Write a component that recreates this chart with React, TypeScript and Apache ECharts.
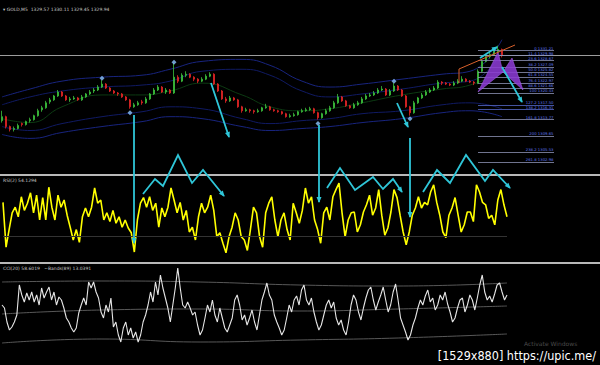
import React, { useEffect, useRef } from "react";
import * as echarts from "echarts";

// ---------- price panel (GOLD M5) ----------
const opens = [1313.5,1314.5,1312,1311.25,1311.5,1312.75,1312.5,1313.5,1313.75,1314.75,
 1316.25,1316.75,1318.25,1318.75,1319.75,1320.75,1319.75,1318.75,1319,1319.25,
 1318.75,1319.5,1320.25,1321,1321.25,1322,1322.75,1321.75,1321,1320.5,
 1320.25,1319.5,1318.75,1317,1317.5,1318.25,1318,1319,1320.25,1321.25,
 1322,1320.75,1321.25,1320.5,1324.5,1323.5,1325,1325.25,1324.5,1324,
 1323.5,1324,1324.75,1325.25,1322.75,1321,1319,1318.5,1319.25,1318.75,
 1317,1316,1316.25,1316,1315.75,1316,1316.75,1317,1316.25,1316,
 1315.75,1315.25,1314.5,1314.75,1315,1315.75,1316,1316.25,1316.5,1315.5,
 1314.25,1315.25,1316,1316.75,1318,1319.5,1318.5,1317.25,1316.75,1317.5,
 1318,1319,1319.75,1320,1320.5,1321.25,1321.5,1320,1321,1322.25,
 1321.25,1319.75,1317,1315.5,1318,1319.25,1320,1320.75,1321.25,1321.75,
 1323.25,1323,1322.75,1322.5,1323,1323.5,1324,1323.5,1323.25,1323,
 1326,1328.5,1329.75,1330.25,1331,1331.5];
const closes = [1314.5,1312,1311.25,1311.5,1312.25,1312.5,1313.25,1313.75,1314.75,1316,
 1316.75,1318,1318.75,1319.75,1320.75,1319.75,1318.75,1319,1319.25,1318.75,
 1319.5,1320.25,1320.75,1321.25,1322,1322.75,1321.75,1321,1320.5,1320.25,
 1319.5,1318.75,1317,1317.5,1318,1318,1319,1320.25,1321.25,1322,
 1320.75,1321.25,1320.5,1324.5,1323.5,1325,1325.25,1324.5,1324,1323.5,
 1324,1324.75,1325.25,1322.75,1321,1319,1318.5,1319.25,1318.75,1317,
 1316,1316.25,1316,1315.75,1316,1316.75,1317,1316.25,1316,1315.75,
 1315.25,1314.5,1314.75,1315,1315.75,1316,1316.25,1316.5,1315.5,1314.25,
 1315.25,1316,1316.75,1318,1319.5,1318.5,1317.25,1316.75,1317.5,1318,
 1319,1319.75,1320,1320.5,1321.25,1321.5,1320,1321,1322.25,1321.25,
 1319.75,1317,1315.5,1318,1319.25,1320,1320.75,1321.25,1321.75,1323.25,
 1323,1322.75,1322.5,1323,1323.5,1324,1323.5,1323.25,1323,1326,
 1328.5,1329.75,1330.25,1331,1331.5,1329.94];
const lows = [1313,1311.5,1310.75,1310.75,1311.25,1312,1312.25,1313,1313.5,1314.5,
 1315.75,1316.5,1317.75,1318.5,1319.5,1319.5,1318.5,1318.25,1318.75,1318.5,
 1318.5,1319.25,1320,1320.5,1321,1321.75,1321.5,1320.75,1320.25,1319.75,
 1319.25,1318.5,1316.5,1316.75,1317.25,1317.5,1317.75,1318.75,1320,1321,
 1320.5,1320.25,1320.25,1320.25,1323,1323.25,1324.5,1324.25,1323.5,1323,
 1323.25,1323.75,1324.5,1322.5,1320.75,1318.75,1318,1318.25,1318.5,1316.75,
 1315.5,1315.75,1315.5,1315.25,1315.5,1315.75,1316.5,1316,1315.75,1315.5,
 1315,1314.25,1314.25,1314.5,1314.75,1315.5,1315.75,1316,1315.25,1313.75,
 1314,1315,1315.75,1316.5,1317.75,1318.25,1317,1316.5,1316.5,1317.25,
 1317.75,1318.75,1319.5,1319.75,1320.25,1321,1319.75,1319.75,1320.75,1321,
 1319.5,1316.75,1314.75,1315.25,1317.75,1319,1319.75,1320.5,1321,1321.5,
 1322.5,1322.5,1322.25,1322.25,1322.75,1323.25,1323.25,1323,1322.5,1322.75,
 1325.75,1328.25,1329.25,1330,1330.75,1329.5];
const highs = [1316,1314.75,1312.25,1312,1312.75,1313,1313.5,1314.25,1315,1316.5,
 1317.25,1318.5,1319.25,1320,1321.25,1321,1320,1319.5,1319.75,1319.5,
 1320,1320.5,1321.25,1321.75,1322.5,1323.75,1323,1322,1321.25,1320.75,
 1320.5,1319.75,1319,1318,1318.5,1318.75,1319.5,1320.5,1321.75,1322.5,
 1322.25,1321.75,1321.5,1328,1325,1325.5,1326,1325.5,1324.75,1324.25,
 1324.5,1325.25,1325.75,1325.5,1323,1321.25,1319.5,1319.75,1319.5,1319,
 1317.25,1316.75,1316.5,1316.25,1316.5,1317,1317.75,1317.25,1316.5,1316.25,
 1316,1315.5,1315.25,1315.5,1316,1316.5,1316.75,1317,1316.75,1315.75,
 1315.5,1316.5,1317.25,1318.5,1320.25,1319.75,1318.75,1317.5,1318,1318.5,
 1319.5,1320.25,1320.5,1321,1321.75,1322.25,1321.75,1321.5,1323,1322.5,
 1321.5,1320,1317.25,1318.5,1319.5,1320.5,1321.25,1321.75,1322.25,1323.75,
 1323.5,1323.25,1323,1323.5,1324,1324.75,1324.25,1323.75,1323.5,1326.5,
 1329,1330.25,1330.75,1331.5,1332.5,1331.75];

const bandIdx = [0, 7, 15, 25, 35, 42, 50, 60, 67, 75, 82, 90, 100, 110, 117, 125];
const upperOuter = [1319.5,1321.5,1323.5,1324.5,1325,1326.5,1328.5,1329,1327.5,1323.5,1322,1322.75,1324,1325.25,1326,1334];
const upperInner = [1317.5,1319.5,1321,1322,1322.5,1323.5,1326,1326.5,1325,1321,1319.5,1320.25,1321.5,1323,1323.5,1331];
const middleBand = [1314,1313,1317,1320,1320,1321,1323,1320,1317,1316,1316.5,1318,1320,1321.5,1322.5,1326];
const lowerInner = [1312,1311,1312.75,1314.5,1315.75,1317,1316.5,1314,1312.75,1313.5,1314,1315.25,1316,1317.5,1318,1316.5];
const lowerOuter = [1310,1309,1310.5,1312,1313.25,1314.5,1314,1312,1311,1311.5,1312,1313,1314,1315.5,1316,1314.5];

const markerIdx = [25, 43, 98, 32, 79, 102];
const markerPrice = [1324.25, 1328.25, 1323.5, 1315.5, 1312.75, 1314];

const currentPrice = 1329.94;
const fibLevels = ["0", "11.4", "23.6", "38.2", "50.0", "61.8", "76.4", "88.6", "100", "127.2", "138.2", "161.8", "200", "238.2", "261.8"];
const fibPrices = [1331.21, 1329.98, 1328.67, 1327.09, 1325.82, 1324.55, 1322.97, 1321.66, 1320.43, 1317.5, 1316.31, 1313.77, 1309.65, 1305.53, 1302.98];

// ---------- RSI(2) ----------
const rsi = [72,16,38,59,66,54,79,62,71,84,59,81,50,78,50,91,66,50,81,66,75,56,41,25,38,22,54,65,54,66,90,71,75,50,59,48,62,46,54,41,50,40,34,10,50,71,78,66,79,62,71,41,65,54,66,90,75,59,72,50,62,35,41,25,
 54,71,59,66,81,62,29,34,21,9,29,41,59,50,29,25,12,38,66,59,29,16,59,71,79,50,29,50,59,38,25,71,59,46,62,90,71,79,50,38,21,59,66,50,79,88,96,59,29,50,59,
 60,35,44,60,69,81,56,65,88,56,31,40,60,88,78,56,35,19,35,56,65,79,65,72,69,85,94,72,56,35,28,56,65,78,56,35,44,60,60,48,94,85,72,69,52,56,44,75,88,69,54];

// ---------- CCI(20) ----------
const cci = [5,-10,-80,-120,-105,-80,-45,105,55,20,65,30,70,20,55,5,90,40,70,95,30,70,5,45,30,-10,-60,-80,-110,-130,-110,-35,5,40,5,120,90,120,70,40,-30,-60,5,-30,40,-105,-80,-145,-180,-110,-80,-145,-110,-160,-130,-180,-145,-80,-45,5,70,20,120,55,155,90,40,-10,-80,5,90,190,90,5,-10,20,-10,-45,-30,-95,-145,
 -120,-60,5,-30,30,-45,-80,-10,-60,-110,
 -130,-95,-60,30,55,5,-70,-45,-95,-60,
 -20,-80,-120,-45,30,70,115,55,30,-45,
 -80,-110,-145,-120,-60,5,-30,30,50,5,
 80,105,30,5,40,-30,-80,-120,-95,-45,
 5,30,-10,20,-60,-95,-70,-120,-145,-80,
 5,55,30,-30,-70,-10,40,80,95,30,
 -20,20,55,95,30,-30,5,70,110,30,
 -60,-95,-130,-170,-145,-95,-60,-10,30,5,
 50,80,20,40,-20,5,55,30,70,10,
 -30,-80,-60,-10,30,40,-30,5,55,30,
 -20,40,105,155,70,30,50,20,60,105,
 115,70,30,55];
const cciBandIdx = [0, 40, 80, 120, 160, 204];
const cciUpper = [120, 125, 120, 105, 100, 115];
const cciMiddle = [-40, -20, -15, -25, -15, 0];
const cciLower = [-185, -165, -180, -170, -160, -140];

const RSI_LABEL = "RSI(2) 54.1294";
const CCI_LABEL = "CCI(20) 58.6019   ~Bands(89) 13.0391";
const HEADER = "\u25BE GOLD,M5  1329.57 1330.11 1329.45 1329.94";

// annotation strokes (pixel space, drawn over the screenshot)
const cyanArrows: number[][][] = [
  [[480, 58], [497, 47]],
  [[502, 67], [522, 102]],
  [[211, 83], [229, 137]],
  [[397, 103], [408, 127]],
  [[134, 115], [134, 243]],
  [[319, 125], [319, 202]],
  [[410, 138], [410, 217]],
  [[143, 194], [155, 179], [163, 186], [178, 155], [192, 183], [203, 170], [224, 196]],
  [[327, 188], [340, 168], [355, 190], [373, 177], [383, 189], [393, 179], [402, 192]],
  [[423, 192], [437, 170], [450, 183], [466, 155], [485, 181], [493, 170], [510, 188]],
];
const purpleTriangles: number[][][] = [
  [[478, 92], [498, 52], [503, 72]],
  [[503, 72], [512, 58], [523, 90]],
];
const orangeLine = [[459, 83], [459, 69], [515, 45]];

function headPts(p1: number[], p2: number[], size: number) {
  const dx = p2[0] - p1[0], dy = p2[1] - p1[1];
  const L = Math.hypot(dx, dy) || 1;
  const ux = dx / L, uy = dy / L;
  const bx = p2[0] - ux * size, by = p2[1] - uy * size;
  const px = -uy * size * 0.5, py = ux * size * 0.5;
  return [[p2[0] + ux, p2[1] + uy], [bx + px, by + py], [bx - px, by - py]];
}

export default function App() {
  const ref = useRef<HTMLDivElement>(null);
  useEffect(() => {
    document.body.style.margin = "0";
    document.body.style.background = "#000";
    const chart = echarts.init(ref.current!, undefined, { renderer: "svg" });
    const priceCats = Array.from({ length: 150 }, (_, i) => String(i));
    const rsiCats = rsi.map((_, i) => String(i));
    const cciCats = cci.map((_, i) => String(i));
    const pair = (idx: number[], vals: number[]) => idx.map((x, i) => [x, vals[i]]);
    const bandLine = (data: number[][], color: string, width = 1, xi = 0, yi = 0) => ({
      type: "line", xAxisIndex: xi, yAxisIndex: yi, data, smooth: true, symbol: "none", silent: true,
      lineStyle: { color, width }, z: 1,
    });

    const fibMark: any[] = fibPrices.map((p, i) => [
      {
        coord: [119, p],
        lineStyle: { color: i === 9 || i === 10 ? "#5668c8" : "#8d92b4", width: 0.8, type: "solid" },
        label: {
          show: true, position: "insideEndTop", formatter: fibLevels[i] + " " + p.toFixed(2),
          color: "#5f74e6", fontSize: 3.8, distance: 0.5, fontFamily: "DejaVu Sans",
        },
      },
      { coord: [138, p] },
    ]);

    const graphic: any[] = [];
    graphic.push({ type: "rect", shape: { x: 0, y: 174, width: 600, height: 2 }, style: { fill: "#b8b8b8" }, z: 90 });
    graphic.push({ type: "rect", shape: { x: 0, y: 262, width: 600, height: 2 }, style: { fill: "#b8b8b8" }, z: 90 });
    graphic.push({ type: "text", x: 3, y: 7, style: { text: HEADER, fill: "#c8c8c8", fontSize: 4.5, fontFamily: "DejaVu Sans", verticalAlign: "top" }, z: 95 });
    graphic.push({ type: "text", x: 3, y: 178, style: { text: RSI_LABEL, fill: "#c8c8c8", fontSize: 4.5, fontFamily: "DejaVu Sans", verticalAlign: "top" }, z: 95 });
    graphic.push({ type: "text", x: 3, y: 266, style: { text: CCI_LABEL, fill: "#c8c8c8", fontSize: 4.5, fontFamily: "DejaVu Sans", verticalAlign: "top" }, z: 95 });
    purpleTriangles.forEach((t) =>
      graphic.push({ type: "polygon", shape: { points: t }, style: { fill: "#8a3ad2", opacity: 0.88, stroke: "#a860f0", lineWidth: 0.6 }, z: 60 })
    );
    graphic.push({ type: "polyline", shape: { points: orangeLine }, style: { stroke: "#d8602a", lineWidth: 1, fill: null }, z: 61 });
    cyanArrows.forEach((pts) => {
      graphic.push({ type: "polyline", shape: { points: pts }, style: { stroke: "#2fc6d8", lineWidth: 1.8, fill: null }, z: 100 });
      const n = pts.length;
      graphic.push({ type: "polygon", shape: { points: headPts(pts[n - 2], pts[n - 1], 5) }, style: { fill: "#2fc6d8" }, z: 100 });
    });
    graphic.push({ type: "text", x: 524, y: 340, style: { text: "Activate Windows", fill: "#4a4a4a", fontSize: 6, fontFamily: "DejaVu Sans", verticalAlign: "top" }, z: 95 });
    graphic.push({
      type: "text", x: 596, y: 362,
      style: { text: "[1529x880] https://upic.me/", fill: "#ffffff", fontSize: 12.5, fontFamily: "'DejaVu Sans Condensed', 'DejaVu Sans'", align: "right", verticalAlign: "bottom" },
      z: 99,
    });

    chart.setOption({
      animation: false,
      backgroundColor: "#000000",
      grid: [
        { left: 0, top: 12, width: 600, height: 158 },
        { left: 3, top: 180, width: 504, height: 80 },
        { left: 2, top: 266, width: 505, height: 80 },
      ],
      xAxis: [
        { type: "category", gridIndex: 0, data: priceCats, boundaryGap: true, show: false },
        { type: "category", gridIndex: 1, data: rsiCats, boundaryGap: false, show: false },
        { type: "category", gridIndex: 2, data: cciCats, boundaryGap: false, show: false },
      ],
      yAxis: [
        { type: "value", gridIndex: 0, min: 1301, max: 1341, show: false, splitLine: { show: false } },
        { type: "value", gridIndex: 1, min: 0, max: 100, show: false, splitLine: { show: false } },
        { type: "value", gridIndex: 2, min: -200, max: 200, show: false, splitLine: { show: false } },
      ],
      series: [
        bandLine(pair(bandIdx, upperOuter), "#18247e", 1),
        bandLine(pair(bandIdx, upperInner), "#101a62", 1),
        bandLine(pair(bandIdx, middleBand), "#0c3a12", 1),
        bandLine(pair(bandIdx, lowerInner), "#101a62", 1),
        bandLine(pair(bandIdx, lowerOuter), "#18247e", 1),
        {
          type: "candlestick",
          xAxisIndex: 0, yAxisIndex: 0,
          data: opens.map((o, i) => [o, closes[i], lows[i], highs[i]]),
          barWidth: 2.4,
          itemStyle: { color: "#3cc23c", color0: "#e42626", borderColor: "#3cc23c", borderColor0: "#e42626", borderWidth: 0.8 },
          z: 3,
          markLine: {
            silent: true, symbol: ["none", "none"], animation: false,
            data: [
              { yAxis: currentPrice, lineStyle: { color: "#9c9c9c", width: 1, type: "solid" }, label: { show: false } },
              ...fibMark,
            ],
          },
        },
        {
          type: "scatter", xAxisIndex: 0, yAxisIndex: 0,
          data: pair(markerIdx, markerPrice),
          symbol: "diamond", symbolSize: 5,
          itemStyle: { color: "#8cc4ff" }, z: 5,
        },
        {
          type: "line", xAxisIndex: 1, yAxisIndex: 1, data: rsi, symbol: "none",
          lineStyle: { color: "#ffff00", width: 1.6 }, z: 3,
          markLine: {
            silent: true, symbol: ["none", "none"],
            data: [{ yAxis: 30, lineStyle: { color: "#333333", width: 1, type: "solid" }, label: { show: false } }],
          },
        },
        bandLine(pair(cciBandIdx, cciUpper), "#6f6f6f", 0.8, 2, 2),
        bandLine(pair(cciBandIdx, cciMiddle), "#6f6f6f", 0.8, 2, 2),
        bandLine(pair(cciBandIdx, cciLower), "#6f6f6f", 0.8, 2, 2),
        {
          type: "line", xAxisIndex: 2, yAxisIndex: 2, data: cci, symbol: "none",
          lineStyle: { color: "#e6e6e6", width: 1.1 }, z: 3,
        },
      ],
      graphic,
    });
    return () => chart.dispose();
  }, []);
  return <div ref={ref} style={{ position: "absolute", left: 0, top: 0, width: 600, height: 365, background: "#000" }} />;
}
